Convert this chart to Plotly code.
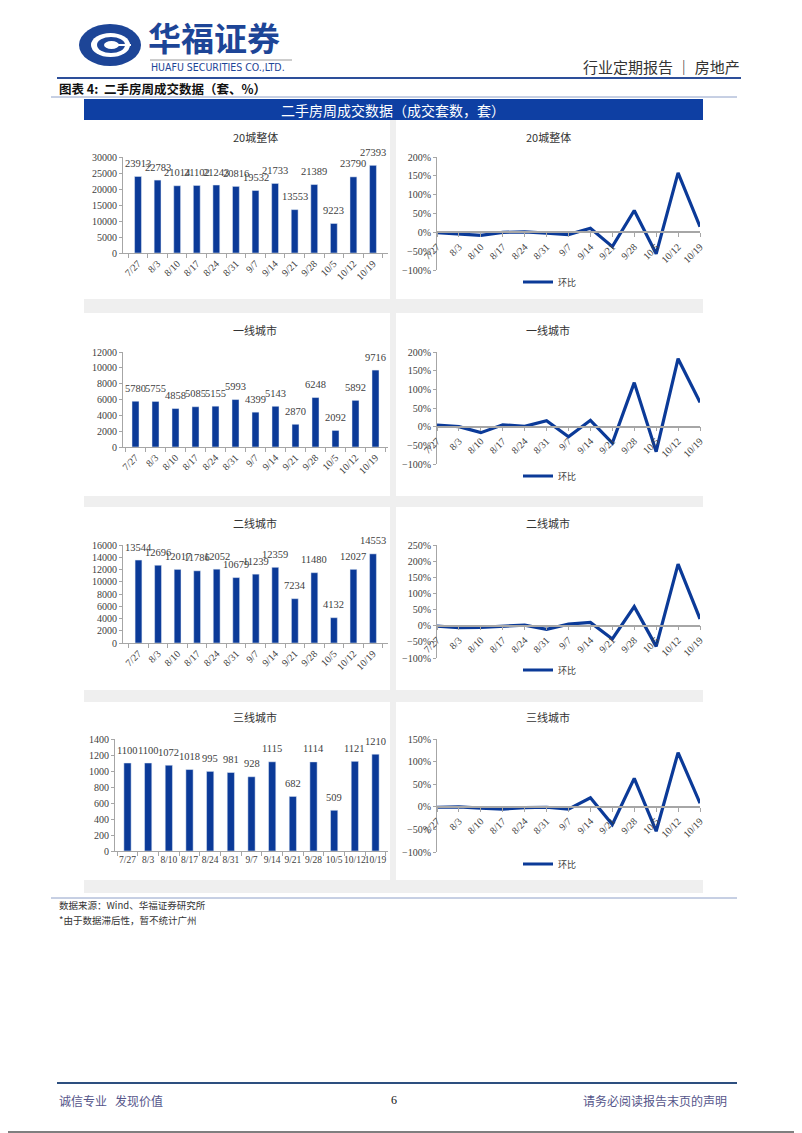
import plotly.graph_objects as go

# the page body adds an 8px margin, so the figure covers screen pixels 8..802 / 8..1133
PAD = 8
W, H = 802 - PAD, 1133 - PAD

weeks = ['7/27', '8/3', '8/10', '8/17', '8/24', '8/31', '9/7',
         '9/14', '9/21', '9/28', '10/5', '10/12', '10/19']

# weekly second-hand housing deals (units)
total_vol = [23913, 22783, 21014, 21102, 21243, 20816, 19532, 21733, 13553, 21389, 9223, 23790, 27393]
tier1_vol = [5780, 5755, 4858, 5085, 5155, 5993, 4399, 5143, 2870, 6248, 2092, 5892, 9716]
tier2_vol = [13544, 12696, 12017, 11786, 12052, 10679, 11239, 12359, 7234, 11480, 4132, 12027, 14553]
tier3_vol = [1100, 1100, 1072, 1018, 995, 981, 928, 1115, 682, 1114, 509, 1121, 1210]

# week-on-week change, %
total_hoh = [-1, -5, -8, 0, 1, -2, -6, 11, -38, 58, -57, 158, 15]
tier1_hoh = [4, 0, -16, 5, 1, 16, -27, 17, -44, 118, -67, 182, 65]
tier2_hoh = [-1, -6, -5, -2, 2, -11, 5, 10, -41, 59, -64, 191, 21]
tier3_hoh = [-1, 0, -3, -5, -2, -1, -5, 20, -39, 63, -54, 120, 8]

panel_titles = ['20城整体', '一线城市', '二线城市', '三线城市']
bar_ranges = [(30000, 5000), (12000, 2000), (16000, 2000), (1400, 200)]
line_ranges = [(-100, 200), (-100, 200), (-100, 250), (-100, 150)]

BLUE = '#0b3a98'
AXIS = '#a6a6a6'
TXT = '#404040'
SERIF = 'Liberation Serif, Noto Sans CJK SC'
CJK = 'Noto Sans CJK SC'


def fx(x):
    return (x - PAD) / W


def fy(y):
    return 1 - (y - PAD) / H


# pixel layout of each row: (plot top, bar bottom, line bottom, panel top, panel bottom)
rows = [(157, 253, 270, 120, 299),
        (352, 447, 464, 313, 496),
        (545, 643, 658, 507, 690),
        (739, 851, 852, 702, 880)]
bar_left = [123, 123, 123, 115]
legend_y = [282, 476, 670, 864]
title_y = [137, 330, 523, 717]

fig = go.Figure()
shapes, annotations = [], []

# panel backgrounds
shapes.append(dict(type='rect', xref='paper', yref='paper', x0=fx(84), x1=fx(703),
                   y0=fy(120), y1=fy(893), fillcolor='#efefef', line_width=0, layer='below'))
for r in rows:
    for x0, x1 in [(84, 390), (396, 703)]:
        shapes.append(dict(type='rect', xref='paper', yref='paper', x0=fx(x0), x1=fx(x1),
                           y0=fy(r[3]), y1=fy(r[4]), fillcolor='white', line_width=0, layer='below'))

vols = [total_vol, tier1_vol, tier2_vol, tier3_vol]
hohs = [total_hoh, tier1_hoh, tier2_hoh, tier3_hoh]
layout_axes = {}

for i in range(4):
    top, bbot, lbot = rows[i][0], rows[i][1], rows[i][2]
    bx, by = 'x%d' % (2 * i + 1), 'y%d' % (2 * i + 1)
    lx, ly = 'x%d' % (2 * i + 2), 'y%d' % (2 * i + 2)
    ymax, dt = bar_ranges[i]

    fig.add_trace(go.Bar(
        x=weeks, y=vols[i], xaxis=bx, yaxis=by, marker_color=BLUE, width=0.35,
        showlegend=False
    ))
    # value labels sit a little above each bar
    for w, v in zip(weeks, vols[i]):
        annotations.append(dict(text=str(v), x=w, y=v, xref=bx, yref=by, yshift=13,
                                showarrow=False, xanchor='center', yanchor='middle',
                                font=dict(family=SERIF, size=10.5, color=TXT)))
    layout_axes['xaxis%d' % (2 * i + 1)] = dict(
        domain=[fx(bar_left[i]), fx(388)], anchor=by, type='category',
        showline=True, linecolor=AXIS, ticks='outside', tickson='boundaries',
        ticklen=4, tickcolor=AXIS, tickangle=0 if i == 3 else -45,
        tickfont=dict(family=SERIF, size=9.5 if i == 3 else 10, color=TXT), showgrid=False
    )
    layout_axes['yaxis%d' % (2 * i + 1)] = dict(
        domain=[fy(bbot), fy(top)], anchor=bx, range=[0, ymax], dtick=dt, tickformat='d',
        showline=True, linecolor=AXIS, ticks='outside', ticklen=3, tickcolor=AXIS,
        showgrid=False, zeroline=False, tickfont=dict(family=SERIF, size=10, color=TXT)
    )

    lo, hi = line_ranges[i]
    zero_px = lbot - (0 - lo) / (hi - lo) * (lbot - top)
    legend_name = 'legend' if i == 0 else 'legend%d' % (i + 1)
    fig.add_trace(go.Scatter(
        x=weeks, y=hohs[i], xaxis=lx, yaxis=ly, mode='lines', name='环比',
        line=dict(color=BLUE, width=3.2), legend=legend_name, cliponaxis=False
    ))
    layout_axes['xaxis%d' % (2 * i + 2)] = dict(
        domain=[fx(437), fx(700)], anchor='free', position=fy(zero_px), type='category',
        range=[0, 12], showline=True, linecolor=AXIS, linewidth=1.5, ticks='outside',
        ticklen=4, tickcolor=AXIS, tickangle=-45, showgrid=False,
        tickfont=dict(family=SERIF, size=10, color=TXT)
    )
    layout_axes['yaxis%d' % (2 * i + 2)] = dict(
        domain=[fy(lbot), fy(top)], anchor=lx, range=[lo, hi], dtick=50, ticksuffix='%',
        showline=True, linecolor=AXIS, ticks='outside', ticklen=3, tickcolor=AXIS,
        showgrid=False, zeroline=False, tickfont=dict(family=SERIF, size=10, color=TXT)
    )
    layout_axes[legend_name] = dict(
        x=fx(550), y=fy(legend_y[i]), xanchor='center', yanchor='middle',
        orientation='h', bgcolor='rgba(0,0,0,0)', itemwidth=30,
        font=dict(family=CJK, size=9, color=TXT)
    )

    for cx in (255, 548):
        annotations.append(dict(text=panel_titles[i], x=fx(cx), y=fy(title_y[i]), xref='paper',
                                yref='paper', showarrow=False, xanchor='center', yanchor='middle',
                                font=dict(family=CJK, size=11, color='#333333')))

# header: logo
shapes += [
    dict(type='circle', xref='paper', yref='paper', x0=fx(79), x1=fx(141), y0=fy(66), y1=fy(24),
         fillcolor='#1d4597', line_width=0),
    dict(type='circle', xref='paper', yref='paper', x0=fx(91), x1=fx(130), y0=fy(57), y1=fy(33),
         fillcolor='white', line_width=0),
    dict(type='circle', xref='paper', yref='paper', x0=fx(97), x1=fx(125), y0=fy(53), y1=fy(37),
         fillcolor='#1d4597', line_width=0),
    dict(type='circle', xref='paper', yref='paper', x0=fx(104), x1=fx(119), y0=fy(49), y1=fy(41),
         fillcolor='white', line_width=0),
    dict(type='rect', xref='paper', yref='paper', x0=fx(111), x1=fx(131), y0=fy(46), y1=fy(44),
         fillcolor='white', line_width=0),
    dict(type='line', xref='paper', yref='paper', x0=fx(150), x1=fx(292), y0=fy(60), y1=fy(60),
         line=dict(color='#9a9a9a', width=1)),
    dict(type='line', xref='paper', yref='paper', x0=fx(57), x1=fx(741), y0=fy(78), y1=fy(78),
         line=dict(color='#2d4f9a', width=2)),
    dict(type='line', xref='paper', yref='paper', x0=fx(51), x1=fx(737), y0=fy(97), y1=fy(97),
         line=dict(color='#8ea0c8', width=1)),
    dict(type='rect', xref='paper', yref='paper', x0=fx(84), x1=fx(703), y0=fy(120), y1=fy(99),
         fillcolor='#0e3fa3', line_width=0),
    dict(type='line', xref='paper', yref='paper', x0=fx(51), x1=fx(737), y0=fy(898), y1=fy(898),
         line=dict(color='#8ea0c8', width=1)),
    dict(type='line', xref='paper', yref='paper', x0=fx(57), x1=fx(737), y0=fy(1083), y1=fy(1083),
         line=dict(color='#2d4f7f', width=2)),
    # page frame (right and bottom edges are inside the figure)
    dict(type='line', xref='paper', yref='paper', x0=fx(801), x1=fx(801), y0=fy(1132), y1=fy(8),
         line=dict(color='#7f7f7f', width=2)),
    dict(type='line', xref='paper', yref='paper', x0=fx(8), x1=fx(801), y0=fy(1132), y1=fy(1132),
         line=dict(color='#7f7f7f', width=2)),
]


def note(text, x, y, size, color, family=CJK, xanchor='left'):
    annotations.append(dict(text=text, x=fx(x), y=fy(y), xref='paper', yref='paper',
                            showarrow=False, xanchor=xanchor, yanchor='middle',
                            font=dict(family=family, size=size, color=color)))


note('<b>华福证券</b>', 146, 37, 33, '#1d4597')
note('HUAFU SECURITIES CO.,LTD.', 149, 67, 10.5, '#1d4597',
     family='Liberation Sans Narrow, DejaVu Sans Condensed, Liberation Sans')
note('行业定期报告 ｜ 房地产', 742, 66, 15, '#333333', xanchor='right')
note('<b>图表 4:  二手房周成交数据（套、%）</b>', 57, 88, 12.5, '#111111')
note('二手房周成交数据（成交套数，套）', 393, 110, 14, 'white', xanchor='center')
note('数据来源：Wind、华福证券研究所', 57, 905, 9.5, '#333333')
note('*由于数据滞后性，暂不统计广州', 57, 920, 9.5, '#333333')
note('诚信专业   发现价值', 57, 1100, 12, '#55558a')
note('6', 394, 1100, 12, '#111111', family='Liberation Serif', xanchor='center')
note('请务必阅读报告末页的声明', 729, 1100, 12, '#55558a', xanchor='right')

fig.update_layout(
    width=W, height=H, margin=dict(l=0, r=0, t=0, b=0, autoexpand=False),
    paper_bgcolor='white', plot_bgcolor='rgba(0,0,0,0)',
    shapes=shapes, annotations=annotations, bargap=0.6,
    font=dict(family=SERIF, size=10, color=TXT),
    **layout_axes
)

fig.write_html("out.html")
